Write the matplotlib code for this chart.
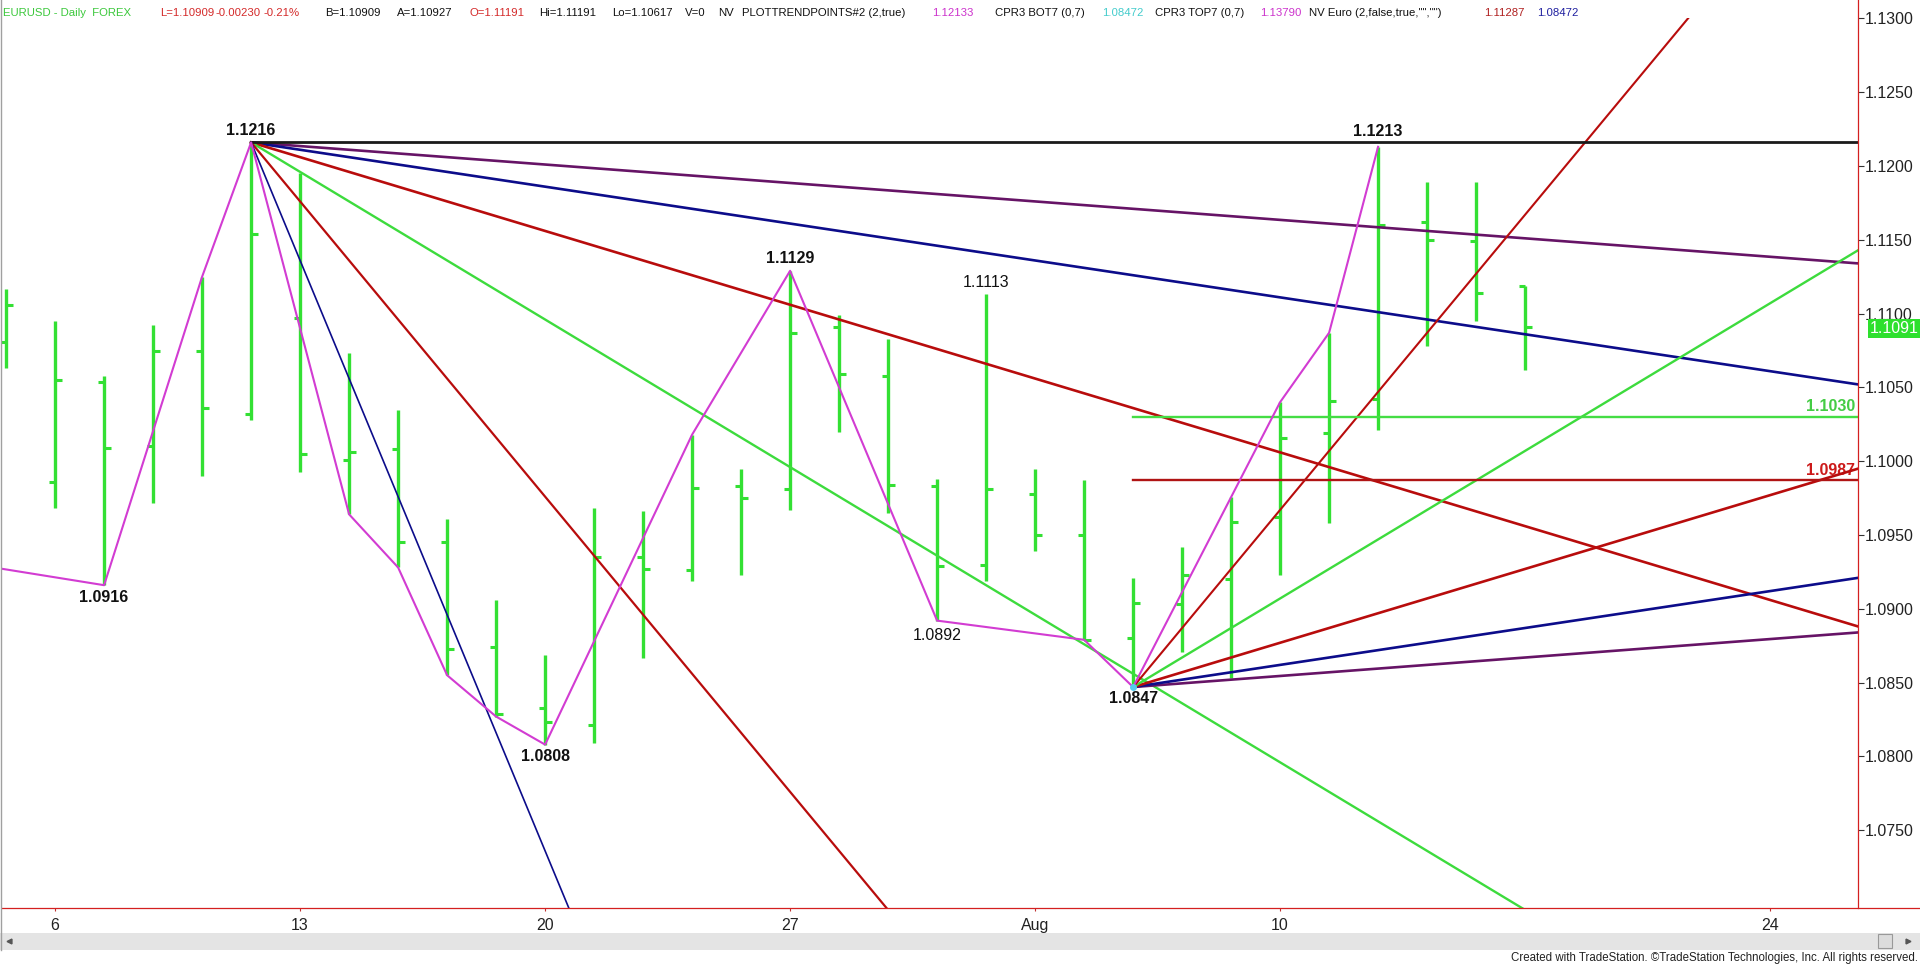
import numpy as np
import matplotlib
matplotlib.use('Agg')
import matplotlib.pyplot as plt
from matplotlib.lines import Line2D
from matplotlib.patches import Rectangle

# EURUSD daily bars, 3 Jul .. 17 Aug 2015 (bar index 0..31)
opens = [1.1081, 1.0986, 1.1054, 1.1010, 1.1075, 1.1032, 1.1097, 1.1001,
         1.1008, 1.0945, 1.0874, 1.0833, 1.0821, 1.0935, 1.0926, 1.0983,
         1.0981, 1.1091, 1.1058, 1.0983, 1.0930, 1.0978, 1.0950, 1.0880,
         1.0903, 1.0920, 1.0962, 1.1019, 1.1042, 1.1162, 1.1149, 1.1119]
highs = [1.1117, 1.1095, 1.1058, 1.1092, 1.1125, 1.1216, 1.1195, 1.1073,
         1.1035, 1.0961, 1.0906, 1.0869, 1.0968, 1.0966, 1.1018, 1.0995,
         1.1129, 1.1099, 1.1083, 1.0988, 1.1113, 1.0995, 1.0987, 1.0921,
         1.0942, 1.0976, 1.1040, 1.1087, 1.1213, 1.1189, 1.1189, 1.1119]
lows = [1.1063, 1.0968, 1.0916, 1.0972, 1.0990, 1.1028, 1.0993, 1.0964,
        1.0928, 1.0855, 1.0827, 1.0808, 1.0809, 1.0867, 1.0919, 1.0923,
        1.0967, 1.1020, 1.0965, 1.0892, 1.0919, 1.0939, 1.0879, 1.0847,
        1.0871, 1.0853, 1.0923, 1.0958, 1.1021, 1.1078, 1.1095, 1.1062]
closes = [1.1106, 1.1055, 1.1009, 1.1075, 1.1036, 1.1154, 1.1005, 1.1006,
          1.0945, 1.0873, 1.0829, 1.0823, 1.0935, 1.0927, 1.0982, 1.0975,
          1.1087, 1.1059, 1.0984, 1.0929, 1.0981, 1.0950, 1.0879, 1.0904,
          1.0923, 1.0959, 1.1016, 1.1041, 1.1160, 1.1150, 1.1114, 1.1091]

tick_bars = [1, 6, 11, 16, 21, 26, 36]
tick_labels = ['6', '13', '20', '27', 'Aug', '10', '24']
price_ticks = [1.0750, 1.0800, 1.0850, 1.0900, 1.0950, 1.1000, 1.1050,
               1.1100, 1.1150, 1.1200, 1.1250, 1.1300]

# swing line (PLOTTRENDPOINTS)
swing_bars = [-1, 2, 4, 5, 7, 8, 9, 10, 11, 14, 16, 19, 22, 23, 26, 27, 28]
swing_prices = [1.0932, 1.0916, 1.1125, 1.1216, 1.0964, 1.0928, 1.0855, 1.0827,
                1.0808, 1.1018, 1.1129, 1.0892, 1.0879, 1.0847, 1.1040, 1.1087,
                1.1213]

# labelled pivots
pivot_bars = [2, 5, 11, 16, 19, 20, 23, 28]
pivot_prices = [1.0916, 1.1216, 1.0808, 1.1129, 1.0892, 1.1113, 1.0847, 1.1213]
pivot_above = [False, True, False, True, False, True, False, True]
pivot_major = [True, True, True, True, False, False, True, True]
pivot_gap = [8.6, 8.6, 8.6, 8.6, 11.0, 8.6, 8.6, 11.0]   # label offset, points

# gann fans (price per bar)
top_bar, top_price = 5, 1.1216
top_slopes = [-0.00025, -0.0005, -0.001, -0.002, -0.004, -0.008]
bot_bar, bot_price = 23, 1.0847
bot_slopes = [0.00025, 0.0005, 0.001, 0.002, 0.004]

level_hi = 1.1030
level_lo = 1.0987
last_price = 1.1091

header = [("EURUSD - Daily  FOREX", '#3cc83c'), ("L=1.10909", '#d42a2a'),
          ("-0.00230", '#d42a2a'), ("-0.21%", '#d42a2a'), ("B=1.10909", '#111111'),
          ("A=1.10927", '#111111'), ("O=1.11191", '#d42a2a'), ("Hi=1.11191", '#111111'),
          ("Lo=1.10617", '#111111'), ("V=0", '#111111'), ("NV", '#111111'),
          ("PLOTTRENDPOINTS#2 (2,true)", '#111111'), ("1.12133", '#cc33cc'),
          ("CPR3 BOT7 (0,7)", '#111111'), ("1.08472", '#44cccc'),
          ("CPR3 TOP7 (0,7)", '#111111'), ("1.13790", '#cc33cc'),
          ('NV Euro (2,false,true,"","")', '#111111'), ("1.11287", '#b02020'),
          ("1.08472", '#2020a0')]
header_x = [3, 160, 216, 263, 325, 397, 469, 539, 612, 685, 718, 742, 932,
            995, 1102, 1155, 1260, 1309, 1484, 1537]

plt.rcParams['font.family'] = ['Liberation Sans', 'DejaVu Sans']

W, H = 1920, 964
fig = plt.figure(figsize=(W / 100, H / 100), dpi=100)
ax = fig.add_axes([2 / W, (H - 908) / H, (1857.6 - 2) / W, (908 - 18.4) / H])
ax.set_xlim(-0.084, 37.786)
ax.set_ylim(1.06973, 1.1300)
for s in ax.spines.values():
    s.set_visible(False)

green = '#33e033'
purple = '#661466'
navy = '#0c0c8a'
dred = '#b80c0c'
lgreen = '#3ddb3d'

# bars
x = np.arange(len(opens))
ax.vlines(x, lows, highs, color=green, lw=2.4, zorder=3)
ax.hlines(opens, x - 0.12, x, color=green, lw=2.2, zorder=3)
ax.hlines(closes, x, x + 0.14, color=green, lw=2.2, zorder=3)

x_end = 40
top_colors = [purple, navy, dred, lgreen, dred, navy]
top_widths = [1.9, 1.9, 1.9, 1.7, 1.6, 1.2]
for sl, c, lw in zip(top_slopes, top_colors, top_widths):
    ax.plot([top_bar, x_end], [top_price, top_price + sl * (x_end - top_bar)],
            color=c, lw=lw, zorder=4)
bot_colors = [purple, navy, dred, lgreen, dred]
bot_widths = [1.9, 1.9, 1.9, 1.7, 1.5]
for sl, c, lw in zip(bot_slopes, bot_colors, bot_widths):
    ax.plot([bot_bar, x_end], [bot_price, bot_price + sl * (x_end - bot_bar)],
            color=c, lw=lw, zorder=4)

ax.plot([top_bar, x_end], [top_price, top_price], color='#1a1a1a', lw=2.0, zorder=4)
ax.plot([bot_bar, x_end], [level_hi, level_hi], color='#44dd44', lw=1.7, zorder=4)
ax.plot([bot_bar, x_end], [level_lo, level_lo], color='#b01414', lw=1.7, zorder=4)

ax.plot(swing_bars, swing_prices, color='#d23cd2', lw=1.5, zorder=5)
ax.plot([bot_bar], [bot_price], 'o', color='#55ccee', ms=4, zorder=6)

for b, p, up, major, gap in zip(pivot_bars, pivot_prices, pivot_above, pivot_major, pivot_gap):
    ax.annotate(f'{p:.4f}', (b, p), xytext=(0, gap if up else -gap),
                textcoords='offset points', ha='center', va='center',
                fontsize=11.5, color='#111111',
                fontweight='bold' if major else 'normal', zorder=7)

trans = ax.get_yaxis_transform()
ax.annotate(f'{level_hi:.4f}', (0.9985, level_hi), xycoords=trans, xytext=(0, 7.4),
            textcoords='offset points', ha='right', va='center', fontsize=11.5,
            fontweight='bold', color='#44cc44')
ax.annotate(f'{level_lo:.4f}', (0.9985, level_lo), xycoords=trans, xytext=(0, 7.4),
            textcoords='offset points', ha='right', va='center', fontsize=11.5,
            fontweight='bold', color='#cc1a1a')

# axes
ax.yaxis.tick_right()
ax.set_yticks(price_ticks)
ax.set_yticklabels([f'{t:.4f}' for t in price_ticks])
ax.tick_params(axis='y', length=4, width=0.8, color='#333333', pad=1.5,
               labelsize=11.5, labelcolor='#222222')
ax.set_xticks(tick_bars)
ax.set_xticklabels(tick_labels)
ax.tick_params(axis='x', length=2.5, width=0.8, color='#c03030', pad=4.5,
               labelsize=11.5, labelcolor='#222222')

ax.annotate(f'{last_price:.4f}', (1 + (1894 - 1857.6) / 1855.6, last_price),
            xycoords=trans, xytext=(0, -1.4), textcoords='offset points',
            ha='center', va='center', fontsize=11.5, color='white',
            annotation_clip=False, zorder=8,
            bbox=dict(boxstyle='square,pad=0.12', fc='#2ee02e', ec='none'))

# frame lines
fig.add_artist(Line2D([1857.6 / W] * 2, [(H - 908) / H, 1], color='#d42020', lw=0.9))
fig.add_artist(Line2D([2 / W, 1], [(H - 908) / H] * 2, color='#d42020', lw=0.9))
fig.add_artist(Line2D([1 / W] * 2, [(H - 950) / H, 1], color='#a0a0a0', lw=1))

# scroll bar
fig.add_artist(Rectangle((0, (H - 950) / H), 1, 17 / H, transform=fig.transFigure,
                         fc='#e4e4e4', ec='none'))
fig.add_artist(Rectangle((1878 / W, (H - 948) / H), 14 / W, 14 / H,
                         transform=fig.transFigure, fc='#dcdcdc', ec='#999999', lw=0.8))
fig.add_artist(Line2D([9 / W], [(H - 941) / H], marker='<', ms=3.5, color='#555555', lw=0))
fig.add_artist(Line2D([1908 / W], [(H - 941) / H], marker='>', ms=3.5, color='#555555', lw=0))

for (txt, col), hx in zip(header, header_x):
    fig.text(hx / W, (H - 13) / H, txt, color=col, fontsize=8.2, va='center')

fig.text(1918 / W, (H - 958) / H,
         'Created with TradeStation. \u00a9TradeStation Technologies, Inc. All rights reserved.',
         ha='right', va='center', fontsize=8.3, color='#222222')

fig.savefig('out.png', dpi=100, facecolor='white')
